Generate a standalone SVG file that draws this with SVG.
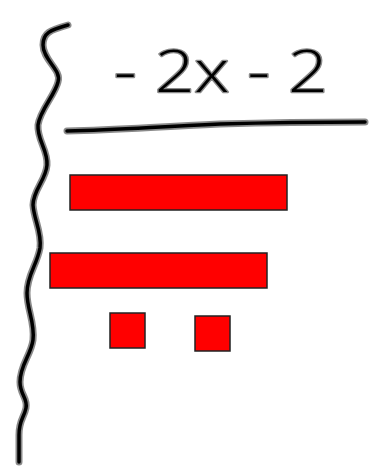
<svg xmlns="http://www.w3.org/2000/svg" width="374" height="472" viewBox="0 0 374 472">
<style>
.halo{fill:none;stroke:#8a8a8a;stroke-width:7;stroke-linecap:round;stroke-linejoin:round}
.ink{fill:none;stroke:#000;stroke-width:3.5;stroke-linecap:round;stroke-linejoin:round}
.bar{fill:#ff0000;stroke:#222;stroke-width:1.5}
.hw{font-family:"Open Sans","DejaVu Sans",sans-serif;font-weight:300;font-size:58px;fill:#000;stroke:#8a8a8a;stroke-width:2.5;stroke-linejoin:round;paint-order:stroke}
</style>
<rect width="374" height="472" fill="#fff"/>
<g id="brace">
<path class="halo" d="M68,25 C50,30 43,33 43,45 C43,60 62,70 58,82 C55,95 40,110 38,125 C37,140 48,150 47,165 C46,180 33,190 33,205 C34,220 42,232 40,248 C37,265 27,275 27,293 C27,310 35,322 33,340 C31,355 20,365 20,382 C20,395 28,398 26,408 C24,418 19,420 19,435 L19,462"/>
<path class="ink" d="M68,25 C50,30 43,33 43,45 C43,60 62,70 58,82 C55,95 40,110 38,125 C37,140 48,150 47,165 C46,180 33,190 33,205 C34,220 42,232 40,248 C37,265 27,275 27,293 C27,310 35,322 33,340 C31,355 20,365 20,382 C20,395 28,398 26,408 C24,418 19,420 19,435 L19,462"/>
</g>
<g id="fraction-line">
<path class="halo" d="M67,131 C120,130 150,127 220,124 C290,122 330,122 365,122"/>
<path class="ink" d="M67,131 C120,130 150,127 220,124 C290,122 330,122 365,122"/>
</g>
<g id="numerator">
<text class="hw" x="114" y="92" textLength="214" lengthAdjust="spacingAndGlyphs">- 2x - 2</text>
</g>
<g id="bar1"><rect class="bar" x="70" y="175" width="217" height="35"/></g>
<g id="bar2"><rect class="bar" x="50" y="253" width="217" height="35"/></g>
<g id="unit1"><rect class="bar" x="110" y="313" width="35" height="35"/></g>
<g id="unit2"><rect class="bar" x="195" y="316" width="35" height="35"/></g>
</svg>
